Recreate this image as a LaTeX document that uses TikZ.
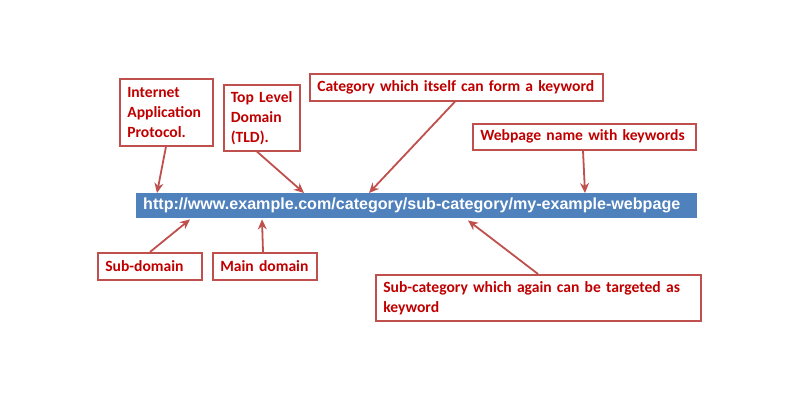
\documentclass[tikz,border=0pt]{standalone}
\usepackage{fontspec}
\setmainfont{Carlito}
\newfontfamily\urlfont{Liberation Sans}
\usetikzlibrary{arrows.meta,calc}
\definecolor{boxred}{HTML}{C0504D}
\definecolor{txtred}{HTML}{C00000}
\definecolor{barblue}{HTML}{4F81BD}
\begin{document}
\begin{tikzpicture}[x=1pt,y=1pt,
  lbl/.style={draw=boxred, line width=1.6pt, fill=white, text=txtred,
    font=\bfseries\fontsize{15.6}{20}\selectfont, align=left, anchor=north west,
    inner xsep=7.5pt, inner ysep=0pt, rectangle},
  conn/.style={draw=boxred, line width=1.8pt, -{Stealth[length=10pt,width=9pt]}},
]
\useasboundingbox (0,0) rectangle (800,400);
\fill[white] (0,0) rectangle (800,400);
% URL bar
\node[fill=barblue, text=white, font=\urlfont\bfseries\fontsize{16.1}{18}\selectfont,
  minimum height=25pt, text width=547pt, inner xsep=7pt, inner ysep=0pt, align=left,
  anchor=north west] (bar) at (136,207) {http://www.example.com/category/sub-category/my-example-webpage};
% label boxes
\node[lbl, text width=78pt, minimum height=67pt] (iap) at (119,322) {Internet\\Application\\Protocol.};
\node[lbl, text width=68pt, inner xsep=4pt, minimum height=66pt] (tld) at (223,316) {\hspace*{3pt}Top Level\\\hspace*{3pt}Domain\\\hspace*{3pt}(TLD).};
\node[lbl, text width=278pt, minimum height=27pt] (cat) at (309,327) {Category which itself can form a keyword};
\node[lbl, text width=208pt, minimum height=26pt] (web) at (472,277) {Webpage name with keywords};
\node[lbl, text width=89pt, minimum height=27pt] (sub) at (97,148) {Sub-domain};
\node[lbl, text width=89pt, minimum height=27pt] (main) at (212,148) {Main domain};
\node[lbl, text width=310pt, minimum height=46pt] (subcat) at (375,126) {Sub-category which again can be targeted as\\keyword};
% connectors
\draw[conn] ($(iap.south west)+(47,0)$) -- ($(bar.north west)+(21,0)$);
\draw[conn] ($(tld.south west)+(34,0)$) -- ($(bar.north west)+(168,0)$);
\draw[conn] ($(cat.south west)+(146,0)$) -- ($(bar.north west)+(233,0)$);
\draw[conn] ($(web.south west)+(111,0)$) -- ($(bar.north west)+(449,0)$);
\draw[conn] ($(sub.north west)+(53,0)$) -- ($(bar.south west)+(54,-1)$);
\draw[conn] ($(main.north west)+(51,0)$) -- ($(bar.south west)+(126,-1)$);
\draw[conn] ($(subcat.north west)+(163,0)$) -- ($(bar.south west)+(332,-2)$);
\end{tikzpicture}
\end{document}
